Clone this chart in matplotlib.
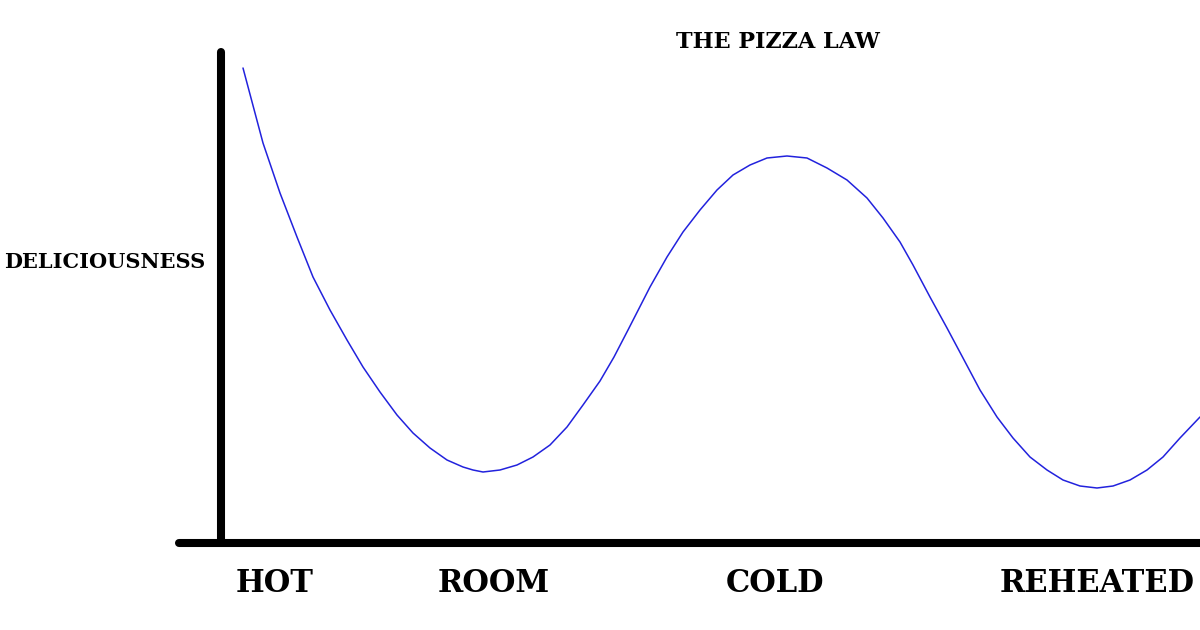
import matplotlib.pyplot as plt

# curve (x: time, y: deliciousness), arbitrary units
time = [22, 42, 59, 76, 92, 109, 126, 142, 159, 176, 192, 209, 226, 242, 252, 262,
        279, 296, 312, 329, 346, 362, 379, 393, 407, 429, 446, 462, 479, 496, 512,
        529, 546, 566, 586, 606, 626, 646, 662, 679, 692, 709, 726, 742, 759, 776,
        792, 809, 826, 842, 859, 876, 892, 909, 926, 942, 959, 979]
delicious = [475, 400, 350, 306, 266, 233, 203, 176, 151, 128, 110, 95, 83, 76, 73, 71,
             73, 78, 86, 98, 116, 138, 162, 186, 213, 256, 286, 311, 333, 353, 368,
             378, 385, 387, 385, 375, 363, 345, 325, 301, 278, 246, 215, 185, 153, 126,
             105, 86, 73, 63, 57, 55, 57, 63, 73, 86, 105, 126]

stage_labels = ['HOT', 'ROOM', 'COLD', 'REHEATED']
stage_pos = [54, 273, 554, 876]

serif = 'DejaVu Serif'

fig = plt.figure(figsize=(12, 6.3), dpi=100)
# axes box in pixels: left 179, right 1200, bottom 543, top 52
ax = fig.add_axes([179 / 1200, (630 - 543) / 630, (1200 - 179) / 1200, (543 - 52) / 630])
ax.set_xlim(-42, 979)
ax.set_ylim(0, 491)

ax.plot(time, delicious, color='#2222dd', lw=1.1, solid_capstyle='round',
        solid_joinstyle='round')

for side in ['top', 'right']:
    ax.spines[side].set_visible(False)
for side in ['left', 'bottom']:
    ax.spines[side].set_linewidth(5.8)
    ax.spines[side].set_capstyle('round')
ax.spines['left'].set_position(('data', 0))

ax.set_yticks([])
ax.set_xticks(stage_pos)
ax.set_xticklabels(stage_labels, fontfamily=serif, fontweight='bold', fontsize=22)
ax.tick_params(axis='x', length=0, pad=18)

fig.text(778 / 1200, 1 - 42 / 630, 'THE PIZZA LAW', ha='center', va='center',
         fontfamily=serif, fontweight='bold', fontsize=16)
fig.text(105 / 1200, 1 - 262 / 630, 'DELICIOUSNESS', ha='center', va='center',
         fontfamily=serif, fontweight='bold', fontsize=15)

fig.savefig('out.png', dpi=100, facecolor='white')
